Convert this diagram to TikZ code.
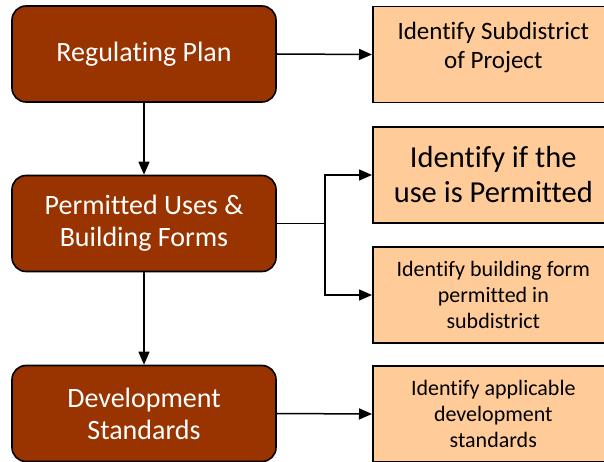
\documentclass[tikz,border=0pt]{standalone}
\usepackage{fontspec}
\setmainfont{Carlito}[Ligatures={NoCommon}]
\usetikzlibrary{arrows.meta,calc}
\definecolor{darkbox}{RGB}{153,51,0}
\definecolor{lightbox}{RGB}{255,204,153}
\begin{document}
\begin{tikzpicture}[x=1pt,y=-1pt,
  mainbox/.style={draw=black,line width=1.6pt,fill=darkbox,rounded corners=14pt,
    minimum width=264pt,minimum height=96pt,inner sep=0pt,text=white,align=center,
    font=\fontsize{28}{32}\selectfont},
  sidebox/.style={draw=black,line width=1.6pt,fill=lightbox,
    minimum width=241pt,minimum height=96pt,inner sep=0pt,anchor=west,align=center},
  lbl/.style={align=center,inner sep=0pt},
  conn/.style={line width=1.5pt,-{Triangle[length=13pt,width=11pt]}},
  plain/.style={line width=1.5pt}]
\clip (0,0) rectangle (604,462);
\fill[white] (0,0) rectangle (604,462);
% left column
\node[mainbox] (a) at (144,54) {Regulating Plan};
\node[mainbox] (b) at (144,223.5) {Permitted Uses \&\\Building Forms};
\node[mainbox] (c) at (144,413.5) {Development\\Standards};
% right column
\node[sidebox] (r1) at (372,54.5) {};
\node[lbl,font=\fontsize{25}{29}\selectfont] (t1) at ($(r1.center)+(0,-7)$) {Identify Subdistrict\\of Project};
\node[sidebox,font=\fontsize{30.5}{35}\selectfont] (r2) at (372,175) {Identify if the\\use is Permitted};
\node[sidebox,font=\fontsize{22}{26}\selectfont] (r3) at (372,295) {Identify building form\\permitted in\\subdistrict};
\node[sidebox,font=\fontsize{22}{26}\selectfont] (r4) at (372,414) {Identify applicable\\development\\standards};
% connectors
\coordinate (j) at (325,223.5);
\draw[conn] (a.south) -- (b.north);
\draw[conn] (b.south) -- (c.north);
\draw[conn] (a.east) -- (r1.west);
\draw[plain] (b.east) -- (j);
\draw[conn] (j) |- (r2.west);
\draw[conn] (j) |- (r3.west);
\draw[conn] (c.east) -- (r4.west);
\end{tikzpicture}
\end{document}
